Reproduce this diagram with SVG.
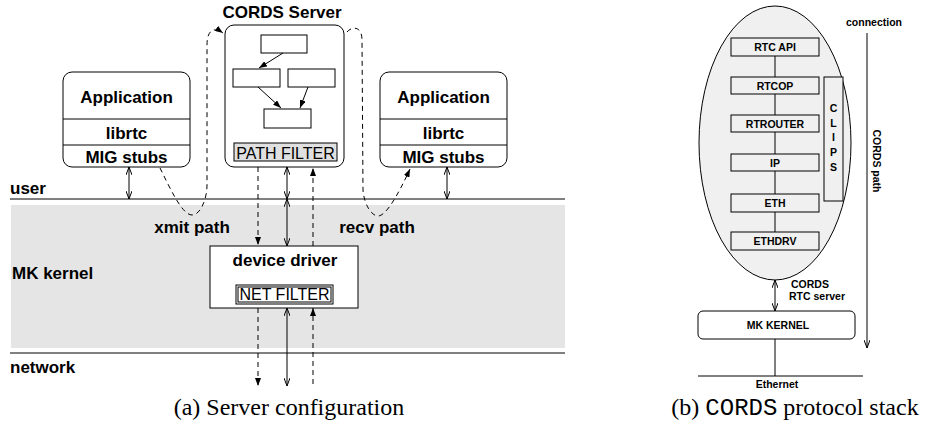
<svg xmlns="http://www.w3.org/2000/svg" width="925" height="428" viewBox="0 0 925 428">
<defs>
<style>
.ln{fill:none;stroke:#000;stroke-width:1}
.ds{fill:none;stroke:#000;stroke-width:1;stroke-dasharray:5 4}
.box{fill:#fff;stroke:#000;stroke-width:1}
.gbox{fill:#f0f0f0;stroke:#000;stroke-width:1}
.b{font-family:"Liberation Sans",Arial,sans-serif;font-weight:bold;font-size:17px;fill:#000}
.n{font-family:"Liberation Sans",Arial,sans-serif;font-size:16px;fill:#000;text-anchor:middle}
.s{font-family:"Liberation Sans",Arial,sans-serif;font-weight:bold;font-size:10.5px;fill:#000}
.c{text-anchor:middle}
.cap{font-family:"Liberation Serif","Times New Roman",serif;font-size:24px;fill:#000;text-anchor:middle}
.mono{font-family:"Liberation Mono","Courier New",monospace}
</style>
<marker id="op" viewBox="0 0 8 6" refX="8" refY="3" markerWidth="8" markerHeight="6" markerUnits="userSpaceOnUse" orient="auto-start-reverse"><path d="M0,0 L8,3 L0,6" fill="none" stroke="#000" stroke-width="1"/></marker>
<marker id="fa" viewBox="0 0 8 6" refX="8" refY="3" markerWidth="8" markerHeight="6" markerUnits="userSpaceOnUse" orient="auto-start-reverse"><path d="M0,0 L8,3 L0,6 z" fill="#000"/></marker>
</defs>
<rect width="925" height="428" fill="#fff"/>

<!-- layers -->
<g id="layers">
<rect x="11" y="205" width="554" height="143" fill="#e5e5e5"/>
<line class="ln" x1="10" y1="199" x2="565" y2="199"/>
<line class="ln" x1="10" y1="353" x2="565" y2="353"/>
<text class="b" x="10" y="194">user</text>
<text class="b" x="12" y="279">MK kernel</text>
<text class="b" x="10" y="373">network</text>
</g>

<g id="app-left">
<rect class="box" x="63" y="72" width="127" height="95" rx="9"/>
<line class="ln" x1="63" y1="119" x2="190" y2="119"/>
<line class="ln" x1="63" y1="145" x2="190" y2="145"/>
<text class="b c" x="126.5" y="103">Application</text>
<text class="b c" x="126.5" y="139">librtc</text>
<text class="b c" x="126.5" y="163">MIG stubs</text>
</g>

<g id="app-right">
<rect class="box" x="380" y="72" width="127" height="95" rx="9"/>
<line class="ln" x1="380" y1="119" x2="507" y2="119"/>
<line class="ln" x1="380" y1="145" x2="507" y2="145"/>
<text class="b c" x="443.5" y="103">Application</text>
<text class="b c" x="443.5" y="139">librtc</text>
<text class="b c" x="443.5" y="163">MIG stubs</text>
</g>

<g id="cords-server">
<text class="b c" x="282" y="18">CORDS Server</text>
<rect class="box" x="225" y="25" width="119" height="142" rx="9"/>
<rect class="box" x="261" y="35" width="46" height="18"/>
<rect class="box" x="233" y="69" width="47" height="18"/>
<rect class="box" x="288" y="69" width="47" height="18"/>
<rect class="box" x="264" y="109" width="47" height="19"/>
<rect x="234" y="143" width="103" height="18" fill="#e0e0e0" stroke="#000" stroke-width="1"/>
<text class="n" x="285.5" y="158.5">PATH FILTER</text>
</g>

<g id="device-driver">
<rect class="box" x="210" y="246" width="148" height="62"/>
<text class="b c" x="285" y="266">device driver</text>
<rect class="box" x="236" y="285" width="97" height="19"/>
<rect class="ln" x="238" y="287" width="93" height="15"/>
<text class="n" x="284.5" y="300">NET FILTER</text>
</g>

<g id="connectors">
<line class="ln" x1="129" y1="167" x2="129" y2="199" marker-start="url(#op)" marker-end="url(#op)"/>
<line class="ln" x1="447" y1="167" x2="447" y2="199" marker-start="url(#op)" marker-end="url(#op)"/>
<line class="ln" x1="283" y1="53" x2="259" y2="68" marker-end="url(#fa)"/>
<line class="ln" x1="258" y1="87" x2="281" y2="108" marker-end="url(#fa)"/>
<line class="ln" x1="308" y1="87" x2="300" y2="108" marker-end="url(#fa)"/>
<line class="ds" x1="258" y1="167" x2="258" y2="245" marker-end="url(#fa)"/>
<line class="ln" x1="287" y1="167" x2="287" y2="199" marker-start="url(#op)" marker-end="url(#op)"/>
<line class="ln" x1="287" y1="199" x2="287" y2="246" marker-start="url(#op)" marker-end="url(#op)"/>
<line class="ds" x1="313" y1="246" x2="313" y2="168" marker-end="url(#fa)"/>
<line class="ds" x1="258" y1="308" x2="258" y2="386" marker-end="url(#fa)"/>
<line class="ln" x1="287" y1="308" x2="287" y2="386" marker-start="url(#op)" marker-end="url(#op)"/>
<line class="ds" x1="313" y1="384" x2="313" y2="308" marker-end="url(#fa)"/>
<path class="ds" d="M160,168 C170,188 182,215 192,215 C200,215 207,200 207,185 L207,45 C207,31 213,26 223,33" marker-end="url(#fa)"/>
<path class="ds" d="M347,32 C352,26 362,26 362,40 L363,190 C364,205 372,216 378,216 C386,216 398,195 410,169" marker-end="url(#fa)"/>
<text class="b c" x="192" y="233">xmit path</text>
<text class="b c" x="377" y="233">recv path</text>
</g>

<text class="cap" x="289" y="415">(a) Server configuration</text>

<!-- right panel -->
<g id="stack">
<ellipse class="gbox" cx="775" cy="143" rx="76" ry="137"/>
<line class="ln" x1="775" y1="56" x2="775" y2="232"/>
</g>
<g id="rtc-api"><rect class="gbox" x="731" y="38" width="88" height="18"/><text class="s c" x="775" y="51">RTC API</text></g>
<g id="rtcop"><rect class="gbox" x="731" y="77" width="88" height="17"/><text class="s c" x="775" y="89.5">RTCOP</text></g>
<g id="rtrouter"><rect class="gbox" x="731" y="115" width="88" height="17"/><text class="s c" x="775" y="127.5">RTROUTER</text></g>
<g id="ip"><rect class="gbox" x="731" y="154" width="88" height="17"/><text class="s c" x="775" y="166.5">IP</text></g>
<g id="eth"><rect class="gbox" x="731" y="194" width="88" height="18"/><text class="s c" x="775" y="207">ETH</text></g>
<g id="ethdrv"><rect class="gbox" x="731" y="232" width="88" height="18"/><text class="s c" x="775" y="245">ETHDRV</text></g>
<g id="clips">
<rect class="gbox" x="824" y="77" width="19" height="124"/>
<text class="s c" x="833.5" y="112">C</text>
<text class="s c" x="833.5" y="127">L</text>
<text class="s c" x="833.5" y="141">I</text>
<text class="s c" x="833.5" y="156">P</text>
<text class="s c" x="833.5" y="171">S</text>
</g>
<g id="mk-kernel">
<rect class="box" x="698" y="311" width="157" height="28" rx="5"/>
<text class="s c" x="778" y="329">MK KERNEL</text>
</g>
<g id="right-connectors">
<line class="ln" x1="775" y1="280" x2="775" y2="311" marker-start="url(#op)" marker-end="url(#op)"/>
<line class="ln" x1="775" y1="339" x2="775" y2="376"/>
<line class="ln" x1="698" y1="376" x2="863" y2="376"/>
<line class="ln" x1="867" y1="33" x2="867" y2="348" marker-end="url(#op)"/>
<text class="s" x="791" y="288">CORDS</text>
<text class="s" x="789" y="300">RTC server</text>
<text class="s c" x="777" y="388">Ethernet</text>
<text class="s c" x="874" y="26">connection</text>
<text class="s c" transform="translate(873,161) rotate(90)">CORDS path</text>
</g>
<text class="cap" x="795" y="415">(b) <tspan class="mono">CORDS</tspan> protocol stack</text>
</svg>
